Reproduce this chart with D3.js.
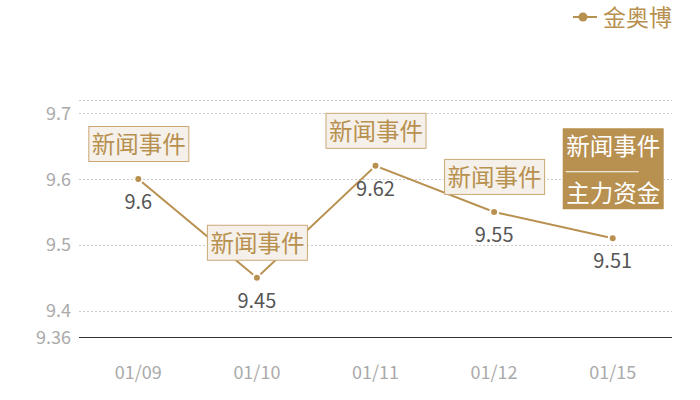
<!DOCTYPE html>
<html>
<head>
<meta charset="utf-8">
<script src="https://cdn.jsdelivr.net/npm/d3@7"></script>
<style>
  body { margin: 0; background: #fff; }
  text { font-family: "Noto Sans CJK SC", "Noto Sans", sans-serif; }
</style>
</head>
<body>
<div class="canvas"></div>
<script>
// data
const dates = ['01/09', '01/10', '01/11', '01/12', '01/15']
const prices = [9.6, 9.45, 9.62, 9.55, 9.51]
const yTicks = [9.36, 9.4, 9.5, 9.6, 9.7]
const notes = [['新闻事件'], ['新闻事件'], ['新闻事件'], ['新闻事件'], ['新闻事件', '主力资金']]
const seriesName = '金奥博'

const gold = '#b8904f'
const dims = { width: 700, height: 400 }
const margin = { top: 100, right: 28, bottom: 63, left: 79 }

const svg = d3.select('.canvas')
    .append('svg')
    .attr('width', dims.width)
    .attr('height', dims.height)

const x = d3.scaleBand()
    .domain(dates)
    .range([margin.left, dims.width - margin.right])

const y = d3.scaleLinear()
    .domain([9.36, 9.72])
    .range([dims.height - margin.bottom, margin.top])

const cx = d => x(d) + x.bandwidth() / 2

// grid lines (dotted), top boundary included
const gridVals = yTicks.slice(1).concat([9.72])
svg.append('g').selectAll('line')
    .data(gridVals)
    .enter().append('line')
    .attr('x1', margin.left).attr('x2', dims.width - margin.right)
    .attr('y1', d => Math.round(y(d)) + 0.5).attr('y2', d => Math.round(y(d)) + 0.5)
    .attr('stroke', '#ccc')
    .attr('stroke-dasharray', '2,2')

// x axis baseline
svg.append('line')
    .attr('x1', margin.left).attr('x2', dims.width - margin.right)
    .attr('y1', Math.round(y(9.36)) + 0.5).attr('y2', Math.round(y(9.36)) + 0.5)
    .attr('stroke', '#333')

// y labels
svg.append('g').selectAll('text')
    .data(yTicks)
    .enter().append('text')
    .attr('x', 71)
    .attr('y', d => y(d) + 6.5)
    .attr('text-anchor', 'end')
    .attr('fill', '#aaa')
    .attr('font-size', 18)
    .text(d => d)

// x labels
svg.append('g').selectAll('text')
    .data(dates)
    .enter().append('text')
    .attr('x', d => cx(d))
    .attr('y', 379)
    .attr('text-anchor', 'middle')
    .attr('fill', '#aaa')
    .attr('font-size', 18)
    .text(d => d)

// line
const line = d3.line()
    .x((d, i) => cx(dates[i]))
    .y(d => y(d))

svg.append('path')
    .datum(prices)
    .attr('d', line)
    .attr('fill', 'none')
    .attr('stroke', gold)
    .attr('stroke-width', 2)

svg.append('g').selectAll('circle')
    .data(prices)
    .enter().append('circle')
    .attr('cx', (d, i) => cx(dates[i]))
    .attr('cy', d => y(d))
    .attr('r', 4)
    .attr('fill', gold)
    .attr('stroke', '#fff')
    .attr('stroke-width', 2)

// value labels
svg.append('g').selectAll('text')
    .data(prices)
    .enter().append('text')
    .attr('x', (d, i) => cx(dates[i]))
    .attr('y', d => y(d) + 30)
    .attr('text-anchor', 'middle')
    .attr('fill', '#555')
    .attr('font-size', 20)
    .text(d => d)

// annotation boxes
const boxW = 100
notes.forEach((lines, i) => {
    const px = cx(dates[i])
    const py = y(prices[i])
    const g = svg.append('g')
    if (lines.length === 1) {
        const h = 35
        const top = py - 18 - h
        g.append('rect')
            .attr('x', px - boxW / 2 + 0.5).attr('y', top + 0.5)
            .attr('width', boxW).attr('height', h)
            .attr('fill', '#f5f0ea')
            .attr('stroke', '#cba874')
        g.append('text')
            .attr('x', px + 0.5).attr('y', top + 27)
            .attr('text-anchor', 'middle')
            .attr('fill', gold)
            .attr('font-size', 23.5)
            .text(lines[0])
    } else {
        const h = 81
        const top = py - 29 - h
        g.append('rect')
            .attr('x', px - boxW / 2).attr('y', top)
            .attr('width', boxW + 1).attr('height', h)
            .attr('fill', gold)
        g.append('text')
            .attr('x', px + 0.5).attr('y', top + 27)
            .attr('text-anchor', 'middle')
            .attr('fill', '#fff')
            .attr('font-size', 23.5)
            .text(lines[0])
        g.append('line')
            .attr('x1', px - 47).attr('x2', px + 26)
            .attr('y1', top + 43.5).attr('y2', top + 43.5)
            .attr('stroke', '#fff')
            .attr('stroke-width', 1)
        g.append('text')
            .attr('x', px + 0.5).attr('y', top + 74)
            .attr('text-anchor', 'middle')
            .attr('fill', '#fff')
            .attr('font-size', 23.5)
            .text(lines[1])
    }
})

// legend
const legend = svg.append('g').attr('transform', 'translate(573, 17)')
legend.append('line')
    .attr('x1', 0).attr('x2', 24)
    .attr('stroke', gold).attr('stroke-width', 2)
legend.append('circle')
    .attr('cx', 10).attr('r', 4.5)
    .attr('fill', gold)
legend.append('text')
    .attr('x', 30).attr('y', 8.5)
    .attr('fill', gold)
    .attr('font-size', 23)
    .text(seriesName)
</script>
</body>
</html>
